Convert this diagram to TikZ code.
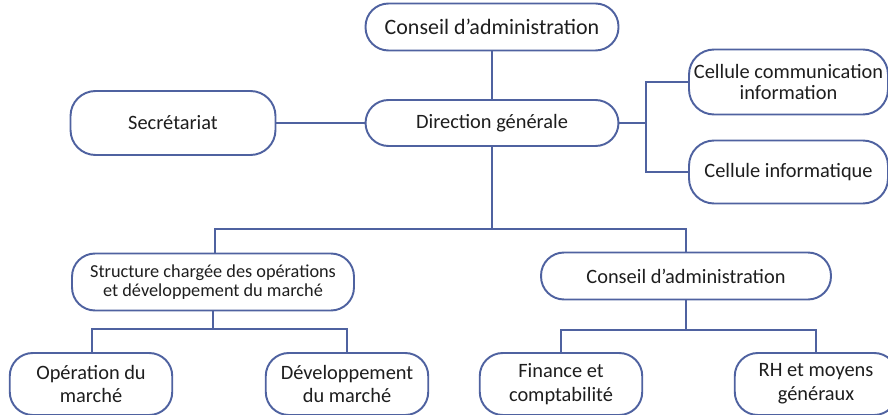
\documentclass[tikz,border=0pt]{standalone}
\usepackage{fontspec}
\setmainfont{Carlito}
\usepackage{xcolor}
\usepackage{tikz}
\usetikzlibrary{positioning, calc}
\definecolor{orgblue}{RGB}{79, 98, 160}
\definecolor{textgray}{RGB}{30, 30, 30}

\begin{document}
\begin{tikzpicture}[
    x=0.02cm, y=-0.02cm,
    box/.style={rectangle, rounded corners=0.46cm, draw=orgblue, line width=1.1pt,
                fill=white, text=textgray, align=center, inner sep=2pt,
                font=\fontsize{11.6}{13.6}\selectfont},
    small/.style={minimum width=3.25cm, minimum height=1.24cm},
    link/.style={line width=1.1pt, orgblue}
]
\useasboundingbox (0,0) rectangle (888,415);

% connectors first, boxes on top
\coordinate (jr) at (646,123);
\coordinate (hub) at (492,229);
\coordinate (hl) at (215,229);
\coordinate (hr) at (686,229);
\coordinate (sl) at (92,329);
\coordinate (sr) at (347,329);
\coordinate (cl) at (561,330);
\coordinate (cr) at (816,330);

\node[box, minimum width=5.06cm, minimum height=0.94cm, font=\fontsize{12.5}{14}\selectfont] (ca) at (492,27) {Conseil d’administration};
\node[box, minimum width=5.06cm, minimum height=0.92cm] (dg) at (492,123) {Direction générale};
\node[box, minimum width=4.1cm, minimum height=1.28cm, rounded corners=0.5cm] (sec) at (173,123) {Secrétariat};
\node[box, minimum width=3.98cm, minimum height=1.3cm, rounded corners=0.5cm, font=\fontsize{11.6}{12.2}\selectfont] (ccom) at (788.5,82) {Cellule communication\\information};
\node[box, minimum width=3.98cm, minimum height=1.26cm, rounded corners=0.5cm] (cinf) at (788.5,172) {Cellule informatique};
\node[box, minimum width=5.64cm, minimum height=1.14cm, font=\fontsize{10.4}{10.8}\selectfont] (struct) at (213,282) {Structure chargée des opérations\\et développement du marché};
\node[box, minimum width=5.8cm, minimum height=0.94cm] (ca2) at (686,276) {Conseil d’administration};
\node[box, small] (op) at (91,384) {Opération du\\marché};
\node[box, small] (dev) at (347,384) {Développement\\du marché};
\node[box, small] (fin) at (561,384) {Finance et\\comptabilité};
\node[box, small] (rh) at (816,384) {RH et moyens\\généraux};

\draw[link] (ca) -- (dg);
\draw[link] (sec) -- (dg);
\draw[link] (dg) -- (jr);
\draw[link] (ccom.west) -| (jr) |- (cinf.west);
\draw[link] (dg) -- (hub);
\draw[link] (struct.north -| hl) -- (hl) -- (hr) -- (ca2.north -| hr);
\draw[link] (struct) -- (struct.south |- sl);
\draw[link] (op.north -| sl) -- (sl) -- (sr) -- (dev.north -| sr);
\draw[link] (ca2) -- (ca2.south |- cl);
\draw[link] (fin.north -| cl) -- (cl) -- (cr) -- (rh.north -| cr);
\end{tikzpicture}
\end{document}
